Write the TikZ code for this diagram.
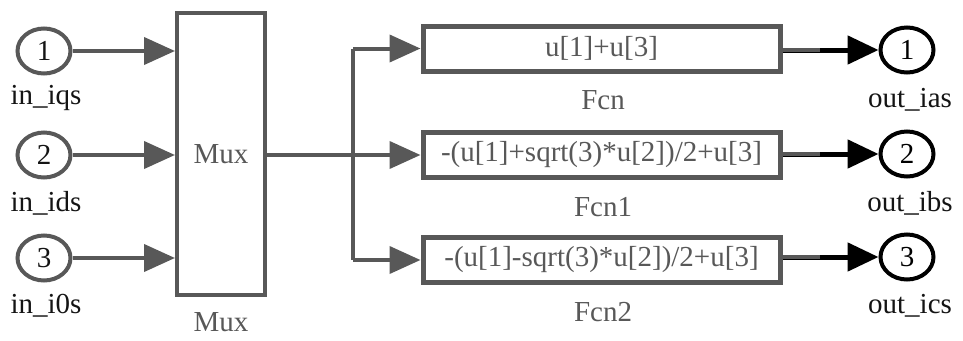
\documentclass[tikz,border=0pt]{standalone}
\usepackage{fontspec}
\setmainfont{Liberation Serif}
\usetikzlibrary{arrows.meta,shapes.geometric}
\definecolor{wire}{RGB}{88,88,88}
\definecolor{ink}{RGB}{20,20,20}
\begin{document}
\begin{tikzpicture}[x=1pt,y=-1pt,
  every node/.style={font=\fontsize{29}{31}\selectfont},
  inport/.style={ellipse,draw=wire,line width=4pt,minimum width=53pt,minimum height=45pt,inner sep=0pt,text=ink},
  outport/.style={ellipse,draw=black,line width=4pt,minimum width=53pt,minimum height=45pt,inner sep=0pt,text=black},
  muxbox/.style={rectangle,draw=wire,line width=4pt,minimum width=88pt,minimum height=282pt,inner sep=0pt,text=wire},
  fcnbox/.style={rectangle,draw=wire,line width=5pt,minimum width=357pt,minimum height=45pt,inner sep=0pt,text=wire},
  caption/.style={text=ink,inner sep=0pt},
  sig/.style={draw=wire,line width=4pt,-{Triangle[length=31pt,width=27pt]}},
  sigout/.style={draw=black,line width=5pt,-{Triangle[length=31pt,width=28pt]}},
  wireseg/.style={draw=wire,line width=4pt}
]
\useasboundingbox (0,0) rectangle (963,340);

% inports
\node[inport] (in1) at (44,51) {1};
\node[inport] (in2) at (44,155) {2};
\node[inport] (in3) at (44,258) {3};
\node[caption] (lin1) at (46,98) {in\_iqs};
\node[caption] (lin2) at (46,203) {in\_ids};
\node[caption] (lin3) at (46,306) {in\_i0s};

% multiplexer
\node[muxbox] (mux) at (221,154) {Mux};
\node[caption,text=wire] (lmux) at (221,322) {Mux};

\draw[sig] (in1.east) -- (in1.east -| mux.west);
\draw[sig] (in2.east) -- (in2.east -| mux.west);
\draw[sig] (in3.east) -- (in3.east -| mux.west);

% function blocks
\node[fcnbox] (f1) at (601.5,48.5) {u[1]+u[3]};
\node[fcnbox] (f2) at (601.5,155) {-(u[1]+sqrt(3)*u[2])/2+u[3]};
\node[fcnbox] (f3) at (601.5,260) {-(u[1]-sqrt(3)*u[2])/2+u[3]};
\node[caption,text=wire] (lf1) at (603,100) {Fcn};
\node[caption,text=wire] (lf2) at (603,207) {Fcn1};
\node[caption,text=wire] (lf3) at (603,312) {Fcn2};

% branching bus
\coordinate (br) at (353,155);
\draw[wireseg] (mux.east |- br) -- (br);
\draw[wireseg] (br |- f1.west) -- (br |- f3.west);
\draw[sig] (br |- f1.west) -- (f1.west);
\draw[sig] (br) -- (f2.west);
\draw[sig] (br |- f3.west) -- (f3.west);

% outports
\node[outport] (o1) at (907,50) {1};
\node[outport] (o2) at (907,154) {2};
\node[outport] (o3) at (907,257) {3};
\node[caption] (lo1) at (910,100) {out\_ias};
\node[caption] (lo2) at (910,203) {out\_ibs};
\node[caption] (lo3) at (910,306) {out\_ics};

\draw[sigout] (f1.east |- o1.west) -- (o1.west);
\draw[sigout] (f2.east |- o2.west) -- (o2.west);
\draw[sigout] (f3.east |- o3.west) -- (o3.west);
\coordinate (g1) at (820,50);
\coordinate (g2) at (820,154);
\coordinate (g3) at (820,257);
\draw[wireseg] (f1.east |- g1) -- (g1);
\draw[wireseg] (f2.east |- g2) -- (g2);
\draw[wireseg] (f3.east |- g3) -- (g3);
\end{tikzpicture}
\end{document}
